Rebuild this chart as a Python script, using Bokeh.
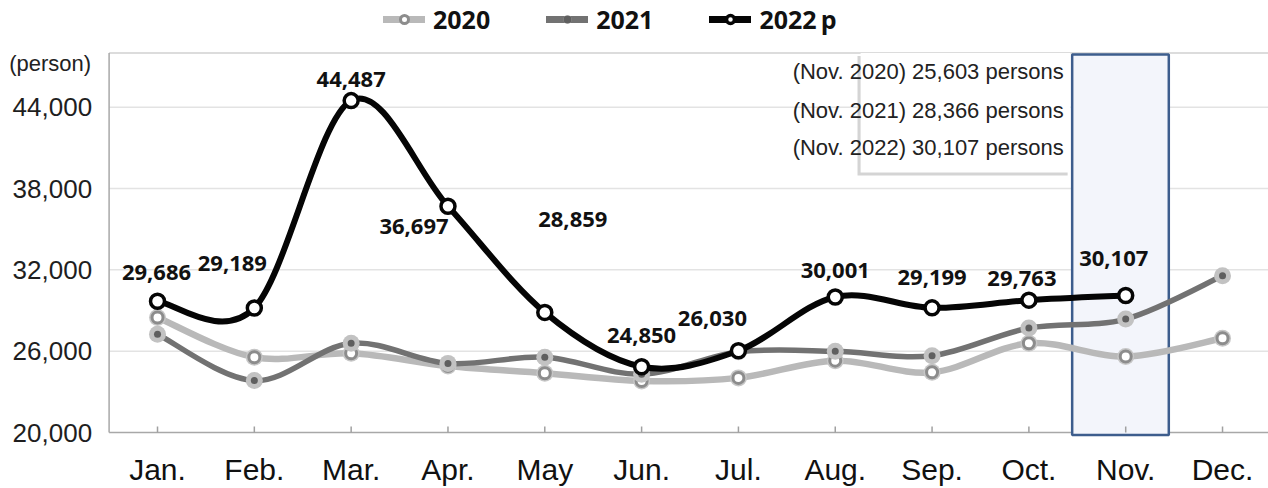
import numpy as np
from bokeh.plotting import figure
from bokeh.models import Range1d, Legend, LegendItem, ColumnDataSource
from bokeh.core.properties import value
from bokeh.embed import file_html
from bokeh.resources import INLINE

# ---------------- data ----------------
months = ["Jan.", "Feb.", "Mar.", "Apr.", "May", "Jun.",
          "Jul.", "Aug.", "Sep.", "Oct.", "Nov.", "Dec."]
y2020 = [28490, 25550, 25840, 24900, 24370, 23800,
         24030, 25300, 24440, 26580, 25603, 26950]
y2021 = [27250, 23830, 26580, 25100, 25550, 24300,
         25950, 25990, 25670, 27710, 28366, 31560]
y2022 = [29686, 29189, 44487, 36697, 28859, 24850,
         26030, 30001, 29199, 29763, 30107]
y_ticks = [20000, 26000, 32000, 38000, 44000]
y_unit = "(person)"
legend_labels = ["2020", "2021", "2022\u2009p"]
highlight_month = "Nov."

# label placement (screen px offsets from the 2022 markers)
label_dx = [-1, -22, 0, -34, 28, 0, -26, 0, 0, -7, -12]
label_dy = [-29, -44, -21, 20, -93, -31, -32, -26, -30, -22, -37]

# ---------------- geometry ----------------
W, H = 1268, 488
YMIN, YMAX = 20000, 48000          # value range of the plot box
BOX_L, BOX_T, BOX_B = 108.6, 52.5, 432.0   # plot box edges in px
NCAT = len(months)
PX_X = 96.82                         # px per category
PX_Y = (BOX_B - BOX_T) / (YMAX - YMIN)
XL = -BOX_L / PX_X
XR = (W - BOX_L) / PX_X
YB = YMIN - (H - BOX_B) / PX_Y
YT = YMAX + BOX_T / PX_Y


def xpos(n):
    return [i + 0.5 for i in range(n)]


def bezier_source(xs, ys):
    n = len(xs)
    d = dict(x0=[], y0=[], x1=[], y1=[], cx0=[], cy0=[], cx1=[], cy1=[])
    for i in range(n - 1):
        ip = i - 1 if i > 0 else i
        inn = i + 2 if i + 2 < n else i + 1
        d["x0"].append(xs[i]); d["y0"].append(ys[i])
        d["x1"].append(xs[i + 1]); d["y1"].append(ys[i + 1])
        d["cx0"].append(xs[i] + (xs[i + 1] - xs[ip]) / 6.0)
        d["cy0"].append(ys[i] + (ys[i + 1] - ys[ip]) / 6.0)
        d["cx1"].append(xs[i + 1] - (xs[inn] - xs[i]) / 6.0)
        d["cy1"].append(ys[i + 1] - (ys[inn] - ys[i]) / 6.0)
    return ColumnDataSource(d)


p = figure(width=W, height=H, output_backend="svg", toolbar_location=None,
           x_range=Range1d(XL, XR), y_range=Range1d(YB, YT),
           x_axis_location=None, y_axis_location=None, min_border=0)
p.background_fill_color = "white"
p.border_fill_color = "white"
p.outline_line_color = None
p.grid.visible = False

nov = months.index(highlight_month)
xm = xpos(NCAT)

# horizontal grid lines
gy = y_ticks[1:]
p.segment(x0=[0] * len(gy), x1=[NCAT] * len(gy), y0=gy, y1=gy,
          line_color="#e3e3e3", line_width=1.5)
# plot box: top border, left axis, bottom axis
p.segment(x0=[0], x1=[NCAT], y0=[YMAX], y1=[YMAX], line_color="#d0d0d0",
          line_width=1.5)
p.segment(x0=[0], x1=[0], y0=[YMIN], y1=[YMAX], line_color="#a8a8a8",
          line_width=1.5)
p.segment(x0=[0], x1=[NCAT], y0=[YMIN], y1=[YMIN], line_color="#a8a8a8",
          line_width=1.5)

# y tick labels and unit
p.text(x=[0] * len(y_ticks), y=y_ticks, text=[f"{v:,}" for v in y_ticks],
       x_offset=-17, text_font=value("Liberation Sans"), text_font_size="26px",
       text_color="#1e1e1e", text_align="right", text_baseline="middle")
p.text(x=[0], y=[YMAX - 10.5 / PX_Y], text=[y_unit], x_offset=-18,
       text_font=value("Liberation Sans"), text_font_size="22px",
       text_color="#222222", text_align="right", text_baseline="middle")

# annotation box (with shadow) top right
sh = 3 / PX_Y
p.quad(left=[nov - 2.27], right=[nov - 0.10], top=[YMAX - sh],
       bottom=[YMAX - 119.5 / PX_Y - sh], fill_color="#d4d4d4", line_color=None)
p.quad(left=[nov - 2.238], right=[nov - 0.07], top=[YMAX],
       bottom=[YMAX - 119.5 / PX_Y], fill_color="white", line_color=None)

# highlight rectangle for November
p.quad(left=[nov - 0.053], right=[nov + 0.945], top=[YMAX - 1.5 / PX_Y],
       bottom=[YMIN - 2.5 / PX_Y], fill_color="#f3f5fb", line_color="#3d5d8d",
       line_width=2.5)

# x ticks (inward) and month labels
p.segment(x0=xm, x1=xm, y0=[YMIN] * NCAT, y1=[YMIN + 6 / PX_Y] * NCAT,
          line_color="#a0a0a0", line_width=1.5)
p.text(x=xm, y=[YMIN] * NCAT, text=months, y_offset=37,
       text_font=value("Liberation Sans"), text_font_size="30px",
       text_color="#111111", text_align="center", text_baseline="middle")

# ---- 2020 ----
x20 = xpos(len(y2020))
p.bezier(source=bezier_source(x20, y2020), x0="x0", y0="y0", x1="x1", y1="y1",
         cx0="cx0", cy0="cy0", cx1="cx1", cy1="cy1",
         line_color="#b9b9b9", line_width=6.5, line_cap="round")
# ---- 2021 ----
x21 = xpos(len(y2021))
p.bezier(source=bezier_source(x21, y2021), x0="x0", y0="y0", x1="x1", y1="y1",
         cx0="cx0", cy0="cy0", cx1="cx1", cy1="cy1",
         line_color="#727272", line_width=5.5, line_cap="round")
h20 = p.scatter(x20, y2020, size=17, fill_color="#c6c6c6", line_color=None)
m20 = p.scatter(x20, y2020, size=11, fill_color="white", line_color="#8c8c8c",
                line_width=3)
h21 = p.scatter(x21, y2021, size=17, fill_color="#c2c2c2", line_color=None)
m21 = p.scatter(x21, y2021, size=7, fill_color="#5f5f5f", line_color=None)

# ---- 2022p ----
x22 = xpos(len(y2022))
p.bezier(source=bezier_source(x22, y2022), x0="x0", y0="y0", x1="x1", y1="y1",
         cx0="cx0", cy0="cy0", cx1="cx1", cy1="cy1",
         line_color="#050505", line_width=6, line_cap="round")
m22 = p.scatter(x22, y2022, size=14, fill_color="white", line_color="#050505",
                line_width=3.5)

# value labels for 2022p
lab_src = ColumnDataSource(dict(x=x22, y=y2022, t=[f"{v:,}" for v in y2022],
                                dx=label_dx, dy=label_dy))
p.text(x="x", y="y", text="t", x_offset="dx", y_offset="dy", source=lab_src,
       text_font=value("Open Sans"), text_font_style="bold",
       text_font_size="22px", text_color="#111111",
       text_align="center", text_baseline="middle")

# annotation text
ann_vals = [y2020[nov], y2021[nov], y2022[nov]]
ann_years = ["2020", "2021", "2022"]
ann_text = [f"({highlight_month} {yr}) {v:,} persons"
            for yr, v in zip(ann_years, ann_vals)]
ann_y = [YMAX - 18.5 / PX_Y, YMAX - 57.5 / PX_Y, YMAX - 94.2 / PX_Y]
p.text(x=[nov - 2.94] * 3, y=ann_y, text=ann_text,
       text_font=value("Liberation Sans"), text_font_size="22px",
       text_color="#222222", text_align="left", text_baseline="middle")

# legend
nan2 = np.array([np.nan, np.nan])
d20 = p.line(x20[:2], nan2, line_color="#b9b9b9", line_width=7, line_cap="round")
d21 = p.line(x21[:2], nan2, line_color="#727272", line_width=7, line_cap="round")
d22 = p.line(x22[:2], nan2, line_color="#050505", line_width=7, line_cap="round")
legend = Legend(items=[
    LegendItem(label=legend_labels[0], renderers=[d20, h20, m20]),
    LegendItem(label=legend_labels[1], renderers=[d21, h21, m21]),
    LegendItem(label=legend_labels[2], renderers=[d22, m22]),
], orientation="horizontal", location=(383, 452))
legend.label_text_font = "Open Sans"
legend.label_text_font_style = "bold"
legend.label_text_font_size = "25px"
legend.label_text_color = "#111111"
legend.glyph_width = 42
legend.glyph_height = 20
legend.label_standoff = 8
legend.spacing = 56
legend.padding = 0
legend.margin = 0
legend.border_line_color = None
legend.background_fill_alpha = 0
p.add_layout(legend, "center")

open("out.html", "w").write(file_html(p, INLINE))
